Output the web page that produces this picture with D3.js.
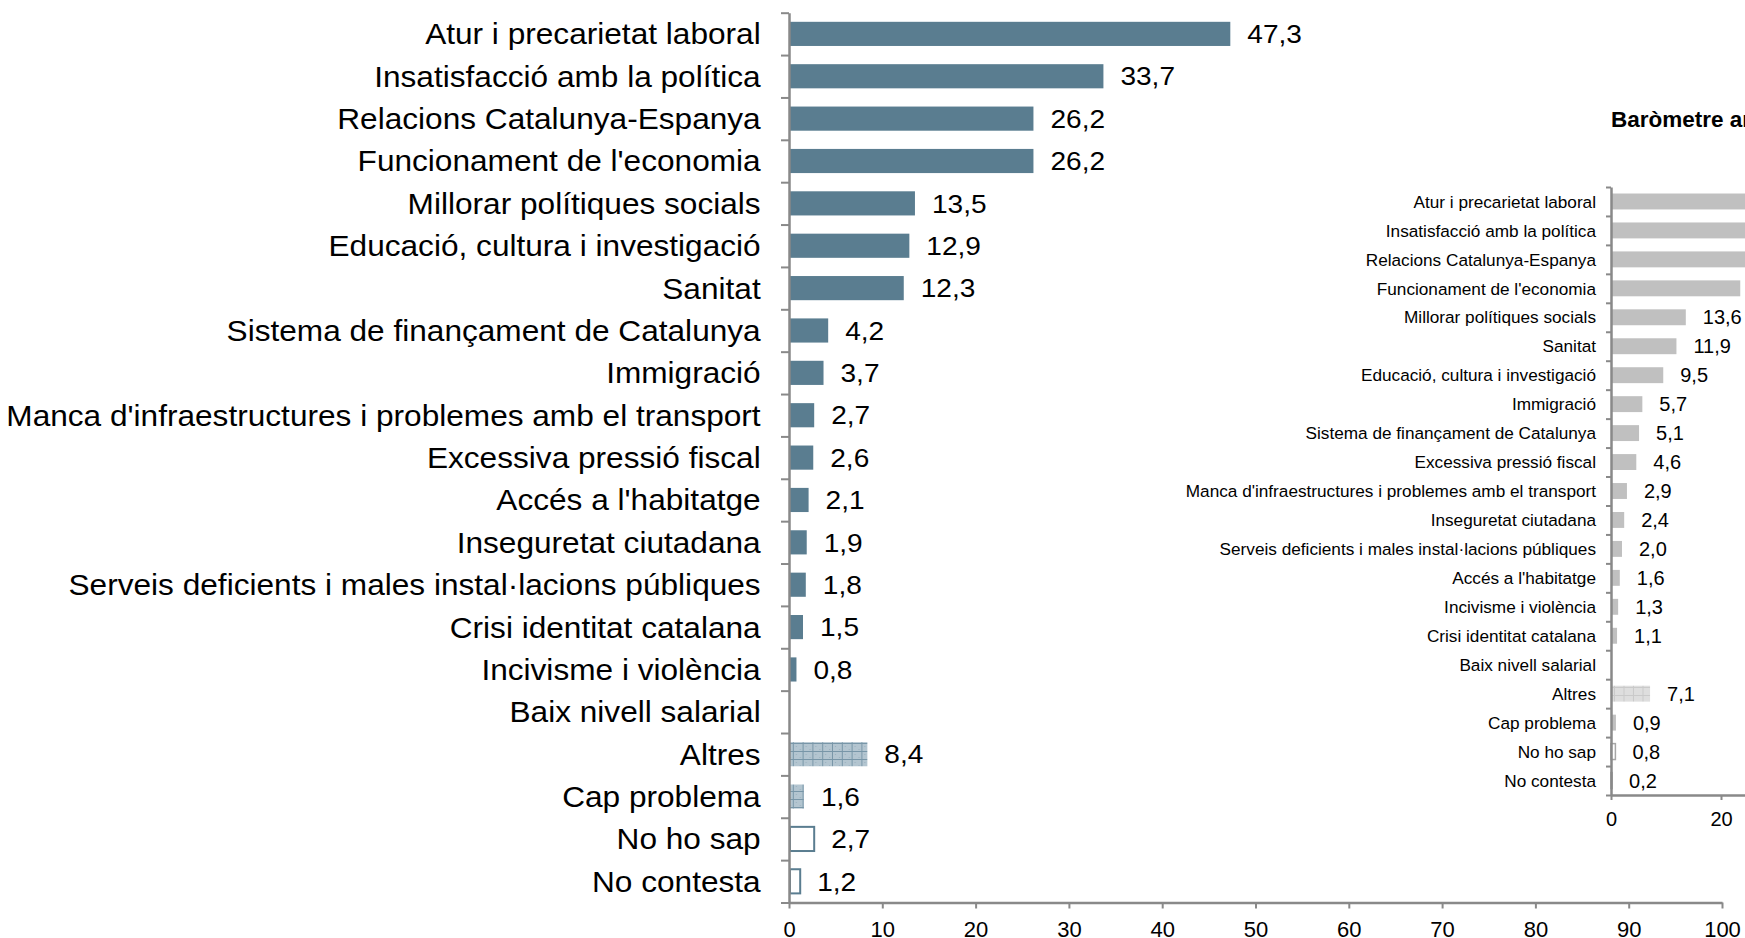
<!DOCTYPE html>
<html>
<head>
<meta charset="utf-8">
<script src="https://cdn.jsdelivr.net/npm/d3@7"></script>
<style>
  html, body { margin: 0; padding: 0; background: #fff; }
  svg { display: block; font-family: "Liberation Sans", Arial, sans-serif; }
</style>
</head>
<body>
<svg id="chart" width="1745" height="938"></svg>
<script>
// ---------- data ----------
const categories = [
  "Atur i precarietat laboral",
  "Insatisfacció amb la política",
  "Relacions Catalunya-Espanya",
  "Funcionament de l'economia",
  "Millorar polítiques socials",
  "Educació, cultura i investigació",
  "Sanitat",
  "Sistema de finançament de Catalunya",
  "Immigració",
  "Manca d'infraestructures i problemes amb el transport",
  "Excessiva pressió fiscal",
  "Accés a l'habitatge",
  "Inseguretat ciutadana",
  "Serveis deficients i males instal·lacions públiques",
  "Crisi identitat catalana",
  "Incivisme i violència",
  "Baix nivell salarial",
  "Altres",
  "Cap problema",
  "No ho sap",
  "No contesta"
];
const values = [47.3, 33.7, 26.2, 26.2, 13.5, 12.9, 12.3, 4.2, 3.7, 2.7, 2.6, 2.1, 1.9, 1.8, 1.5, 0.8, null, 8.4, 1.6, 2.7, 1.2];

const prevTitle = "Baròmetre anterior";
const prevCategories = [
  "Atur i precarietat laboral",
  "Insatisfacció amb la política",
  "Relacions Catalunya-Espanya",
  "Funcionament de l'economia",
  "Millorar polítiques socials",
  "Sanitat",
  "Educació, cultura i investigació",
  "Immigració",
  "Sistema de finançament de Catalunya",
  "Excessiva pressió fiscal",
  "Manca d'infraestructures i problemes amb el transport",
  "Inseguretat ciutadana",
  "Serveis deficients i males instal·lacions públiques",
  "Accés a l'habitatge",
  "Incivisme i violència",
  "Crisi identitat catalana",
  "Baix nivell salarial",
  "Altres",
  "Cap problema",
  "No ho sap",
  "No contesta"
];
// first three bars run past the picture edge: estimated
const prevValues = [44.0, 33.0, 27.0, 23.5, 13.6, 11.9, 9.5, 5.7, 5.1, 4.6, 2.9, 2.4, 2.0, 1.6, 1.3, 1.1, null, 7.1, 0.9, 0.8, 0.2];

const xTicks = [0, 10, 20, 30, 40, 50, 60, 70, 80, 90, 100];
const prevXTicks = [0, 20];

const fmt = v => d3.format(".1f")(v).replace(".", ",");

// ---------- drawing ----------
const W = 1745;
const svg = d3.select("#chart");
const defs = svg.append("defs");

const AXIS = "#898989";
const BAR = "#5a7d90";

// patterns
const p1 = defs.append("pattern").attr("id", "gridMain")
  .attr("patternUnits", "userSpaceOnUse").attr("width", 9.8).attr("height", 8);
p1.append("rect").attr("width", 9.8).attr("height", 8).attr("fill", "#b3c5d0");
p1.append("rect").attr("x", 2).attr("y", 2).attr("width", 1).attr("height", 1).attr("fill", "#98afbd");
p1.append("rect").attr("x", 6).attr("y", 5).attr("width", 1).attr("height", 1).attr("fill", "#98afbd");
p1.append("path").attr("d", "M9.3,0V8M0,7.5H9.8").attr("stroke", "#7896a8").attr("stroke-width", 1);

const p2 = defs.append("pattern").attr("id", "gridPrev")
  .attr("patternUnits", "userSpaceOnUse").attr("width", 9.5).attr("height", 8);
p2.append("rect").attr("width", 9.5).attr("height", 8).attr("fill", "#dedede");
p2.append("path").attr("d", "M9,0V8M0,7.5H9.5").attr("stroke", "#cacaca").attr("stroke-width", 1);

const isPattern = c => c === "Altres" || c === "Cap problema";
const isOutline = c => c === "No ho sap" || c === "No contesta";

// ===== previous barometer (background, right) =====
{
  const x = d3.scaleLinear().domain([0, 100]).range([1611, 2161]);
  const y = d3.scaleBand().domain(prevCategories).range([187, 795])
    .paddingInner(0.45).paddingOuter(0.225);
  const g = svg.append("g");

  g.append("text").attr("x", 1611).attr("y", 127)
    .attr("font-size", 22.5).attr("font-weight", "bold").attr("fill", "#000")
    .text(prevTitle);

  const data = prevCategories.map((c, i) => ({c, v: prevValues[i]})).filter(d => d.v != null);

  g.selectAll("rect.bar").data(data).join("rect").attr("class", "bar")
    .attr("x", x(0))
    .attr("y", d => y(d.c))
    .attr("height", y.bandwidth())
    .attr("width", d => x(d.v) - x(0))
    .attr("fill", d => isOutline(d.c) ? "#fff" : d.c === "Altres" ? "url(#gridPrev)" : "#c0c0c0")
    .attr("stroke", d => isOutline(d.c) ? "#a6a6a6" : "none")
    .attr("stroke-width", 1.5);

  // value labels (those past the picture edge are not visible)
  g.selectAll("text.val").data(data.filter(d => x(d.v) + 17 < W - 40)).join("text").attr("class", "val")
    .attr("x", d => x(d.v) + 17)
    .attr("y", d => y(d.c) + y.bandwidth() / 2)
    .attr("dy", "0.36em")
    .attr("font-size", 20).attr("fill", "#000")
    .text(d => fmt(d.v));

  // category labels
  const yAx = g.append("g").attr("transform", `translate(${x(0)},0)`)
    .call(d3.axisLeft(y).tickSize(0).tickPadding(15));
  yAx.select(".domain").remove();
  yAx.selectAll("text").attr("font-size", 17.2).attr("fill", "#000").attr("dy", "0.36em")
    .attr("font-family", "Liberation Sans, Arial, sans-serif");

  // boundary ticks
  const yb = d3.scaleLinear().domain([0, prevCategories.length]).range([187, 795]);
  const yt = g.append("g").attr("transform", `translate(${x(0)},0)`)
    .call(d3.axisLeft(yb).tickValues(d3.range(0, prevCategories.length + 1)).tickSize(5).tickSizeOuter(0).tickFormat(""));
  yt.select(".domain").attr("stroke", AXIS).attr("stroke-width", 2.5);
  yt.selectAll(".tick line").attr("stroke", AXIS).attr("stroke-width", 2);

  const xAx = g.append("g").attr("transform", "translate(0,795)")
    .call(d3.axisBottom(x).tickValues(prevXTicks).tickSize(5).tickSizeOuter(0).tickPadding(12).tickFormat(d3.format("d")));
  xAx.select(".domain").attr("stroke", AXIS).attr("stroke-width", 2.5);
  xAx.selectAll(".tick line").attr("stroke", AXIS).attr("stroke-width", 2);
  xAx.selectAll("text").attr("font-size", 20).attr("fill", "#000")
    .attr("font-family", "Liberation Sans, Arial, sans-serif");
}

// ===== main chart =====
{
  const x = d3.scaleLinear().domain([0, 100]).range([789, 1722]);
  const y = d3.scaleBand().domain(categories).range([12.7, 902.5])
    .paddingInner(0.43).paddingOuter(0.215);
  const g = svg.append("g");

  const data = categories.map((c, i) => ({c, v: values[i]})).filter(d => d.v != null);

  g.selectAll("rect.bar").data(data).join("rect").attr("class", "bar")
    .attr("x", d => isOutline(d.c) ? x(0) + 1 : x(0))
    .attr("y", d => y(d.c))
    .attr("height", y.bandwidth())
    .attr("width", d => (x(d.v) - x(0)) - (isOutline(d.c) ? 1 : 0))
    .attr("fill", d => isOutline(d.c) ? "#fff" : isPattern(d.c) ? "url(#gridMain)" : BAR)
    .attr("stroke", d => isOutline(d.c) ? BAR : "none")
    .attr("stroke-width", 2);

  g.selectAll("text.val").data(data).join("text").attr("class", "val")
    .attr("transform", d => `translate(${x(d.v) + 17},${y(d.c) + y.bandwidth() / 2}) scale(1.1,1)`)
    .attr("dy", "0.36em")
    .attr("font-size", 25.5).attr("fill", "#000")
    .text(d => fmt(d.v));

  const yAx = g.append("g").attr("transform", `translate(${x(0)},0)`)
    .call(d3.axisLeft(y).tickSize(0).tickPadding(26));
  yAx.select(".domain").remove();
  yAx.selectAll("text").attr("font-size", 29).attr("fill", "#000").attr("dy", "0.36em")
    .attr("font-family", "Liberation Sans, Arial, sans-serif")
    .attr("transform", "scale(1.09,1)");

  const yb = d3.scaleLinear().domain([0, categories.length]).range([12.7, 902.5]);
  const yt = g.append("g").attr("transform", `translate(${x(0)},0)`)
    .call(d3.axisLeft(yb).tickValues(d3.range(0, categories.length + 1)).tickSize(8).tickSizeOuter(0).tickFormat(""));
  yt.select(".domain").attr("stroke", AXIS).attr("stroke-width", 2.5);
  yt.selectAll(".tick line").attr("stroke", AXIS).attr("stroke-width", 2);

  const xAx = g.append("g").attr("transform", "translate(0,902.5)")
    .call(d3.axisBottom(x).tickValues(xTicks).tickSize(6).tickSizeOuter(0).tickPadding(13).tickFormat(d3.format("d")));
  xAx.select(".domain").attr("stroke", AXIS).attr("stroke-width", 2.5);
  xAx.selectAll(".tick line").attr("stroke", AXIS).attr("stroke-width", 2);
  xAx.selectAll("text").attr("font-size", 22).attr("fill", "#000")
    .attr("font-family", "Liberation Sans, Arial, sans-serif");
}
</script>
</body>
</html>
